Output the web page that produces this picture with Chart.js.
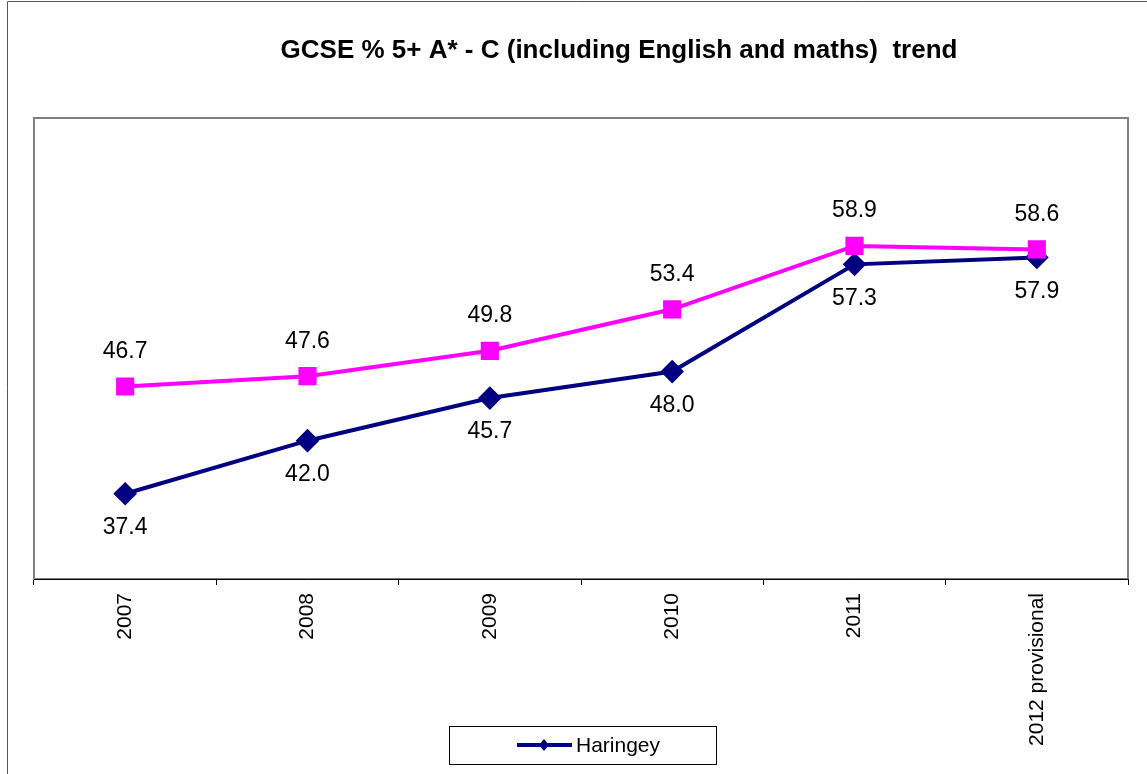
<!DOCTYPE html>
<html>
<head>
<meta charset="utf-8">
<script src="https://cdn.jsdelivr.net/npm/chart.js@4/dist/chart.umd.min.js"></script>
<style>
  html, body { margin: 0; padding: 0; background: #fff; }
  #wrap { width: 1147px; height: 774px; position: relative; }
</style>
</head>
<body>
<div id="wrap"><canvas id="myChart" width="1147" height="774"></canvas></div>
<script>
const years = ["2007", "2008", "2009", "2010", "2011", "2012 provisional"]
const haringey = [37.4, 42.0, 45.7, 48.0, 57.3, 57.9]
const england = [46.7, 47.6, 49.8, 53.4, 58.9, 58.6]
const titleText = "GCSE % 5+ A* - C (including English and maths)  trend"

const FONT = "'Liberation Sans', Arial, sans-serif"

// frame, plot box, value labels and legend box
const decorations = {
  id: "decorations",
  beforeDraw(chart) {
    const ctx = chart.ctx
    const a = chart.chartArea
    ctx.save()
    ctx.fillStyle = "#fff"
    ctx.fillRect(0, 0, chart.width, chart.height)
    ctx.strokeStyle = "#555"
    ctx.lineWidth = 1
    ctx.beginPath()
    ctx.moveTo(7.5, chart.height)
    ctx.lineTo(7.5, 1.5)
    ctx.lineTo(chart.width, 1.5)
    ctx.stroke()
    ctx.strokeStyle = "#808080"
    ctx.lineWidth = 2
    ctx.strokeRect(a.left, a.top, a.right - a.left, a.bottom - a.top)
    ctx.fillStyle = "#000"
    ctx.font = "bold 26px " + FONT
    ctx.textAlign = "center"
    ctx.textBaseline = "middle"
    ctx.fillText(titleText, 619, 51)
    ctx.restore()
  },
  afterDatasetsDraw(chart) {
    const ctx = chart.ctx
    ctx.save()
    ctx.font = "23px " + FONT
    ctx.fillStyle = "#000"
    ctx.textAlign = "center"
    ctx.textBaseline = "middle"
    chart.data.datasets.forEach((ds, i) => {
      const meta = chart.getDatasetMeta(i)
      meta.data.forEach((pt, j) => {
        const dy = i === 0 ? -35 : 34
        ctx.fillText(ds.data[j].toFixed(1), pt.x, pt.y + dy)
      })
    })

    // legend (Haringey only)
    const ds = chart.data.datasets[1]
    ctx.strokeStyle = "#000"
    ctx.lineWidth = 1
    ctx.strokeRect(449.5, 726.5, 267, 38)
    ctx.strokeStyle = ds.borderColor
    ctx.lineWidth = 4
    ctx.beginPath()
    ctx.moveTo(517, 745)
    ctx.lineTo(572, 745)
    ctx.stroke()
    ctx.fillStyle = ds.borderColor
    ctx.beginPath()
    ctx.moveTo(544, 739)
    ctx.lineTo(549, 745)
    ctx.lineTo(544, 751)
    ctx.lineTo(539, 745)
    ctx.closePath()
    ctx.fill()
    ctx.fillStyle = "#000"
    ctx.font = "21px " + FONT
    ctx.textAlign = "left"
    ctx.fillText(ds.label, 576, 746)
    ctx.restore()
  }
}

const ctx = document.getElementById("myChart").getContext("2d")
new Chart(ctx, {
  type: "line",
  data: {
    labels: years,
    datasets: [
      {
        label: "England",
        data: england,
        borderColor: "#ff00ff",
        backgroundColor: "#ff00ff",
        borderWidth: 4,
        pointStyle: "rect",
        pointRadius: 10,
        pointHoverRadius: 10,
        tension: 0,
      },
      {
        label: "Haringey",
        data: haringey,
        borderColor: "#000080",
        backgroundColor: "#000080",
        borderWidth: 4,
        pointStyle: "rectRot",
        pointRadius: 9,
        pointHoverRadius: 9,
        tension: 0,
      },
    ],
  },
  options: {
    responsive: false,
    animation: false,
    layout: { padding: { left: 34, right: 19, top: 118, bottom: 0 } },
    plugins: {
      legend: { display: false },
      tooltip: { enabled: false },
    },
    scales: {
      y: { display: false, min: 30, max: 70 },
      x: {
        offset: true,
        afterFit(scale) { scale.height = 195 },
        grid: {
          offset: true,
          drawOnChartArea: false,
          drawTicks: true,
          tickLength: 6,
          color: "#000",
        },
        border: { color: "#000", width: 1 },
        ticks: {
          minRotation: 90,
          maxRotation: 90,
          padding: 8,
          color: "#000",
          font: { family: FONT, size: 21 },
        },
      },
    },
  },
  plugins: [decorations],
})
</script>
</body>
</html>
